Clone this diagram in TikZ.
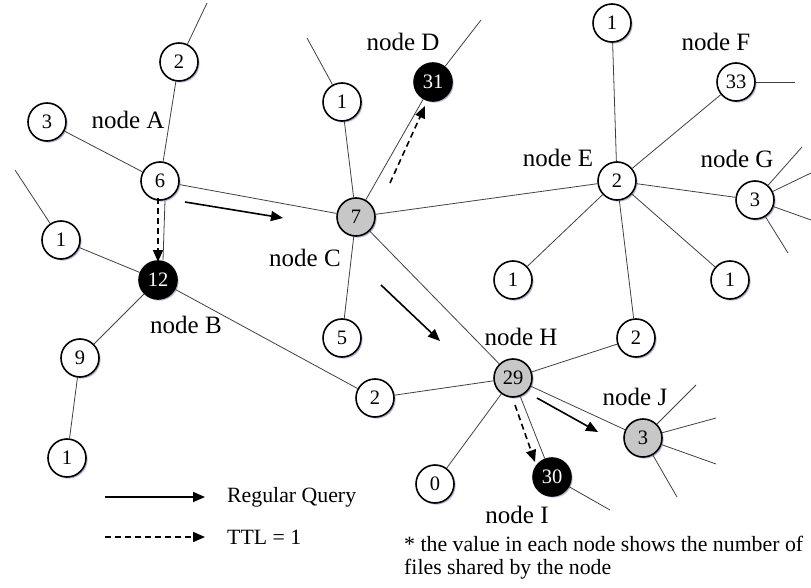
\documentclass[tikz,border=0pt]{standalone}
\usepackage{fontspec}
\setmainfont{Liberation Serif}
\usetikzlibrary{arrows.meta,shadows}

\begin{document}
\begin{tikzpicture}[x=1pt, y=-1pt,
    peer/.style={circle, draw, line width=1.6pt, minimum size=38pt, inner sep=0pt, fill=white,
        font=\fontsize{20.5}{22}\selectfont,
        drop shadow={shadow xshift=1.6pt, shadow yshift=-1.6pt, fill=blue!25!gray, opacity=0.45}},
    hit/.style={peer, fill=black, text=white},
    relay/.style={peer, fill=black!22},
    tag/.style={font=\fontsize{25}{28}\selectfont, inner sep=0pt},
    note/.style={font=\fontsize{21.8}{23}\selectfont, inner sep=0pt},
    link/.style={line width=0.8pt, draw=black!75},
    query/.style={-{Triangle[length=12pt,width=10pt]}, line width=1.6pt},
    ttl/.style={query, dash pattern=on 6pt off 4pt}
]
    \useasboundingbox (0,0) rectangle (811,588);

    \node[peer]  (a)   at (160,181) {6};
    \node[peer]  (a2)  at (179,62)  {2};
    \node[peer]  (a3)  at (47,122)  {3};
    \node[peer]  (b1)  at (61,240)  {1};
    \node[hit]   (b)   at (158,280) {12};
    \node[peer]  (b9)  at (80,358)  {9};
    \node[peer]  (b9a) at (67,458)  {1};
    \node[peer]  (bh)  at (375,398) {2};
    \node[relay] (c)   at (356,217) {7};
    \node[peer]  (c1)  at (342,102) {1};
    \node[hit]   (d)   at (433,82)  {31};
    \node[peer]  (c5)  at (342,338) {5};
    \node[peer]  (e)   at (617,181) {2};
    \node[peer]  (e1)  at (612,23)  {1};
    \node[peer]  (f)   at (736,82)  {33};
    \node[peer]  (g)   at (755,200) {3};
    \node[peer]  (e1l) at (513,280) {1};
    \node[peer]  (e1r) at (730,280) {1};
    \node[peer]  (eh)  at (636,338) {2};
    \node[relay] (h)   at (513,378) {29};
    \node[peer]  (h0)  at (435,484) {0};
    \node[hit]   (i)   at (552,477) {30};
    \node[relay] (j)   at (643,438) {3};

    \coordinate (a2o) at (207,3);
    \coordinate (b1o) at (15,170);
    \coordinate (c1o) at (307,38);
    \coordinate (do)  at (481,20);
    \coordinate (fo)  at (795,82);
    \coordinate (go1) at (802,147);
    \coordinate (go2) at (811,173);
    \coordinate (go3) at (811,220);
    \coordinate (go4) at (788,253);
    \coordinate (io)  at (610,510);
    \coordinate (jo1) at (696,385);
    \coordinate (jo2) at (716,418);
    \coordinate (jo3) at (716,464);
    \coordinate (jo4) at (677,497);

    \draw[link] (a2) -- (a2o);
    \draw[link] (a) -- (a2);
    \draw[link] (a) -- (a3);
    \draw[link] (a) -- (c);
    \draw[link] ([xshift=5pt]a.south) -- ([xshift=5pt]b.north);
    \draw[link] (b1o) -- (b1);
    \draw[link] (b1) -- (b);
    \draw[link] (b) -- (b9);
    \draw[link] (b9) -- (b9a);
    \draw[link] (b) -- (bh);
    \draw[link] (bh) -- (h);
    \draw[link] (c1o) -- (c1);
    \draw[link] (c1) -- (c);
    \draw[link] (c) -- (d);
    \draw[link] (d) -- (do);
    \draw[link] (c) -- (c5);
    \draw[link] (c) -- (e);
    \draw[link] (c) -- (h);
    \draw[link] (e) -- (e1);
    \draw[link] (e) -- (f);
    \draw[link] (f) -- (fo);
    \draw[link] (e) -- (g);
    \draw[link] (e) -- (e1l);
    \draw[link] (e) -- (e1r);
    \draw[link] (e) -- (eh);
    \draw[link] (eh) -- (h);
    \draw[link] (h) -- (h0);
    \draw[link] (h) -- (i);
    \draw[link] (i) -- (io);
    \draw[link] (h) -- (j);
    \foreach \k in {go1,go2,go3,go4} \draw[link] (g) -- (\k);
    \foreach \k in {jo1,jo2,jo3,jo4} \draw[link] (j) -- (\k);

    \node[tag] (la) at (128,120) {node A};
    \node[tag] (lb) at (186,325) {node B};
    \node[tag] (lc) at (305,258) {node C};
    \node[tag] (ld) at (403,42)  {node D};
    \node[tag] (le) at (558,158) {node E};
    \node[tag] (lf) at (716,42)  {node F};
    \node[tag] (lg) at (737,159) {node G};
    \node[tag] (lh) at (521,337) {node H};
    \node[tag] (li) at (517,515) {node I};
    \node[tag] (lj) at (635,397) {node J};

    \coordinate (qac1) at (185,202);
    \coordinate (qac2) at (283,218);
    \coordinate (qab1) at (158,198);
    \coordinate (qab2) at (158,262);
    \coordinate (qcd1) at (390,183);
    \coordinate (qcd2) at (425,106);
    \coordinate (qch1) at (381,285);
    \coordinate (qch2) at (440,341);
    \coordinate (qhi1) at (515,405);
    \coordinate (qhi2) at (535,462);
    \coordinate (qhj1) at (537,398);
    \coordinate (qhj2) at (598,432);
    \draw[query] (qac1) -- (qac2);
    \draw[ttl]   (qab1) -- (qab2);
    \draw[ttl]   (qcd1) -- (qcd2);
    \draw[query] (qch1) -- (qch2);
    \draw[ttl]   (qhi1) -- (qhi2);
    \draw[query] (qhj1) -- (qhj2);

    \coordinate (k1) at (105,497);
    \coordinate (k2) at (205,497);
    \coordinate (k3) at (105,537);
    \coordinate (k4) at (205,537);
    \draw[query] (k1) -- (k2);
    \draw[ttl]   (k3) -- (k4);
    \node[note, anchor=west] (kq) at (227,497) {Regular Query};
    \node[note, anchor=west] (kt) at (227,537) {TTL = 1};
    \node[note, anchor=north west, align=left] (fn) at (404,536)
        {* the value in each node shows the number of\\files shared by the node};
\end{tikzpicture}
\end{document}
